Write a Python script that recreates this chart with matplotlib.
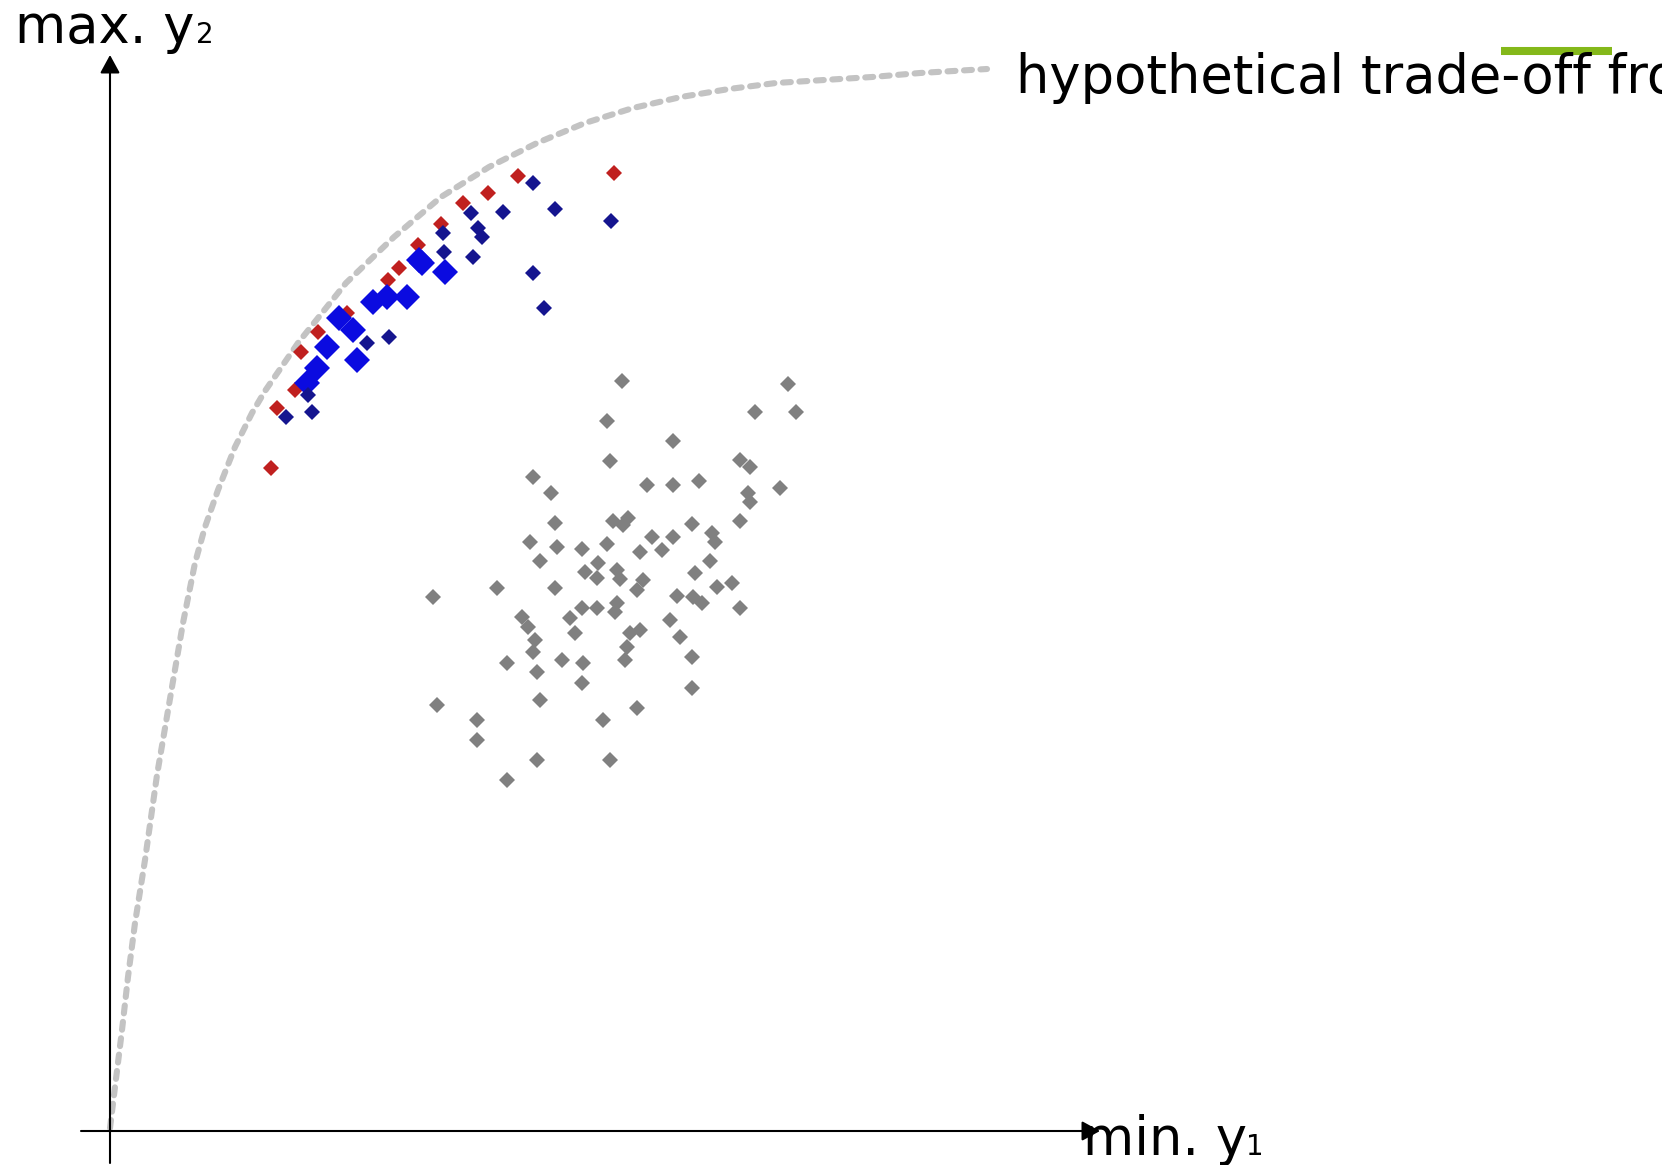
import matplotlib
matplotlib.use('Agg')
import matplotlib.pyplot as plt

# hypothetical trade-off frontier
front_x = [0, 5, 12, 18, 25, 35, 47, 62, 73, 85, 95, 108, 125, 142, 155, 188, 236, 284,
           331, 379, 427, 475, 523, 571, 619, 666, 714, 762, 810, 877]
front_y = [3, 44, 101, 154, 208, 271, 356, 444, 508, 568, 604, 641, 684, 718, 740, 788, 848, 894,
           934, 964, 988, 1008, 1023, 1034, 1042, 1048, 1051, 1054, 1058, 1062]

# random / initial designs
gray_x = [512, 678, 497, 645, 686, 563, 500, 630, 640, 423, 441, 537, 563, 589, 670, 638, 640,
          445, 503, 518, 513, 582, 630, 420, 447, 472, 497, 542, 563, 602, 605, 430, 530, 552,
          488, 475, 487, 507, 510, 533, 600, 585, 387, 445, 323, 527, 622, 567, 583, 607, 592,
          472, 487, 460, 465, 507, 505, 412, 418, 425, 423, 520, 530, 517, 515, 560, 570, 582,
          630, 397, 427, 452, 473, 472, 582, 327, 430, 527, 367, 367, 493, 427, 500, 397]
gray_y = [750, 747, 710, 719, 719, 690, 670, 671, 664, 654, 638, 646, 646, 650, 643, 638, 629,
          608, 610, 613, 606, 607, 610, 589, 584, 582, 587, 594, 594, 598, 589, 570, 579, 581,
          568, 559, 553, 561, 552, 551, 570, 558, 543, 543, 534, 541, 548, 535, 534, 544, 528,
          523, 523, 513, 498, 528, 519, 514, 504, 491, 479, 498, 501, 484, 471, 511, 494, 474,
          523, 468, 459, 471, 468, 448, 443, 426, 431, 423, 411, 391, 411, 371, 371, 351]

# optimised designs
red_x = [504, 408, 378, 353, 331, 308, 289, 278, 237, 208, 191, 185, 167, 161]
red_y = [958, 955, 938, 928, 907, 886, 863, 851, 818, 799, 779, 741, 723, 663]

navy_x = [423, 445, 501, 393, 361, 368, 372, 334, 333, 363, 423, 434, 279, 257, 202, 176, 198]
navy_y = [948, 922, 910, 919, 918, 903, 894, 879, 898, 874, 858, 823, 794, 788, 719, 714, 736]

blue_x = [312, 335, 297, 263, 243, 217, 207, 247, 197, 229, 309, 277]
blue_y = [868, 859, 834, 829, 801, 784, 763, 771, 748, 813, 871, 834]

fig = plt.figure(figsize=(16.62, 11.65), dpi=100)
ax = fig.add_axes([0, 0, 1, 1])
ax.set_xlim(-110, 1552)
ax.set_ylim(-34, 1131)
ax.axis('off')

# axes with arrow heads
arrow = dict(arrowstyle='-|>,head_length=0.55,head_width=0.3', color='black', lw=1.5,
             mutation_scale=20, shrinkA=0, shrinkB=0)
ax.annotate('', xy=(0, 1076), xytext=(0, -32), arrowprops=arrow)
ax.annotate('', xy=(990, 0), xytext=(-29, 0), arrowprops=arrow)

ax.plot(front_x, front_y, color='#c3c3c3', lw=4.4, dashes=(1.3, 1.4),
        dash_capstyle='round', zorder=2)

ax.plot(gray_x, gray_y, 'D', color='#808080', ms=8.5, mew=0, zorder=3)
ax.plot(red_x, red_y, 'D', color='#c0201f', ms=8.5, mew=0, zorder=3)
ax.plot(blue_x, blue_y, 'D', color='#0b0be0', ms=13, mew=0, zorder=4)
ax.plot(navy_x, navy_y, 'D', color='#15158f', ms=8.5, mew=0, zorder=4)

ax.plot([1391, 1502], [1080, 1080], color='#84b81a', lw=5.8, solid_capstyle='butt')

ax.text(-95, 1088, 'max. y', fontsize=38, va='baseline', ha='left')
ax.text(86, 1088, '2', fontsize=20, va='baseline', ha='left')
ax.text(973, -24, 'min. y', fontsize=38, va='baseline', ha='left')
ax.text(1136, -24, '1', fontsize=20, va='baseline', ha='left')
ax.text(906, 1038, 'hypothetical trade-off frontier', fontsize=38, va='baseline', ha='left')

fig.savefig('out.png', dpi=100)
